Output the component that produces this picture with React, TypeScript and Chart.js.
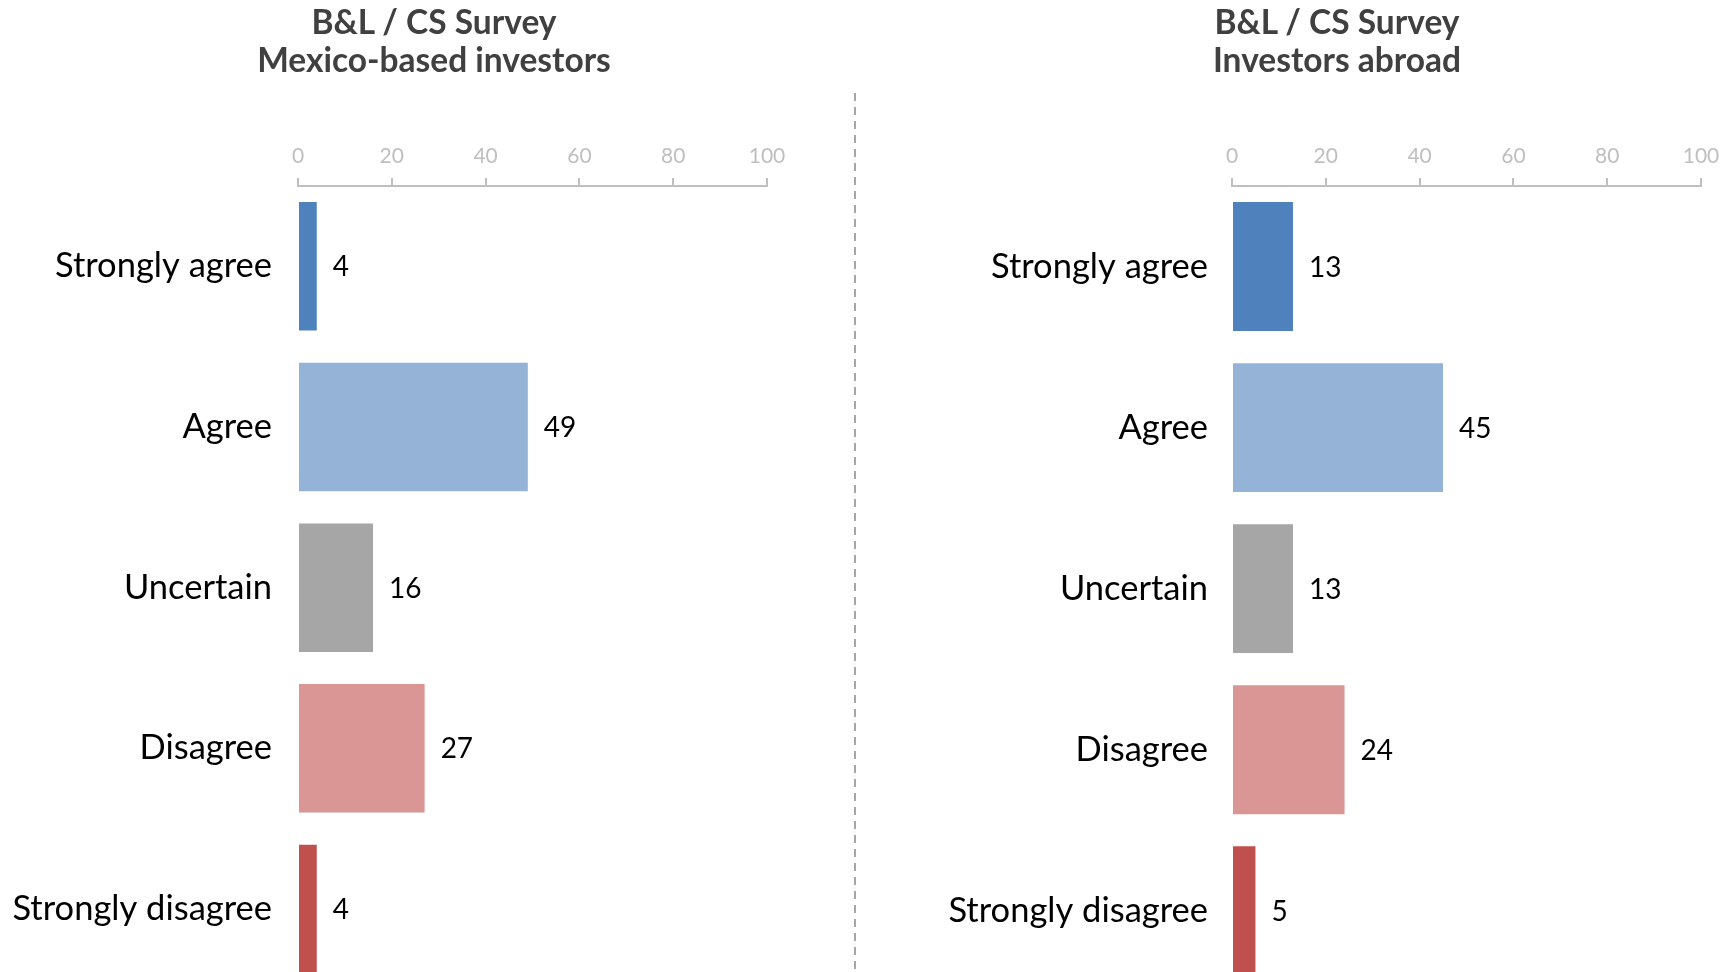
import React, { useEffect, useRef } from "react";
import { Chart, registerables } from "chart.js";

Chart.register(...registerables);

const categories = ["Strongly agree", "Agree", "Uncertain", "Disagree", "Strongly disagree"];
const mexicoValues = [4, 49, 16, 27, 4];
const abroadValues = [13, 45, 13, 24, 5];
const barColors = ["#4f81bd", "#95b3d7", "#a6a6a6", "#da9694", "#c0504d"];
const xTicks = [0, 20, 40, 60, 80, 100];
const titleMexico = ["B&L / CS Survey", "Mexico-based investors"];
const titleAbroad = ["B&L / CS Survey", "Investors abroad"];

const FONT = "Lato, 'Open Sans', sans-serif";

const dataLabelPlugin = {
  id: "barValueLabels",
  afterDatasetsDraw(chart: any) {
    const ctx = chart.ctx;
    const meta = chart.getDatasetMeta(0);
    const ds = chart.data.datasets[0];
    ctx.save();
    ctx.fillStyle = "#000000";
    ctx.font = `28px ${FONT}`;
    ctx.textAlign = "left";
    ctx.textBaseline = "middle";
    meta.data.forEach((bar: any, i: number) => {
      ctx.fillText(String(ds.data[i]), bar.x + 16, bar.y + 1);
    });
    ctx.restore();
  },
};

const dividerPlugin = {
  id: "divider",
  afterDraw(chart: any) {
    const ctx = chart.ctx;
    ctx.save();
    ctx.strokeStyle = "#a6a6a6";
    ctx.lineWidth = 2;
    ctx.setLineDash([8, 6]);
    ctx.beginPath();
    ctx.moveTo(855, 93);
    ctx.lineTo(855, chart.height);
    ctx.stroke();
    ctx.restore();
  },
};

function SurveyChart({ values, withDivider, labelPad }: { values: number[]; withDivider: boolean; labelPad: number }) {
  const ref = useRef<HTMLCanvasElement | null>(null);
  useEffect(() => {
    if (!ref.current) return;
    const chart = new Chart(ref.current, {
      type: "bar",
      data: {
        labels: categories,
        datasets: [
          {
            data: values,
            backgroundColor: barColors,
            borderWidth: 0,
            barPercentage: 0.8,
            categoryPercentage: 1,
          },
        ],
      },
      options: {
        indexAxis: "y",
        responsive: false,
        animation: false,
        devicePixelRatio: 1,
        layout: { padding: { top: 0, left: 0, right: 101, bottom: 9 } },
        plugins: {
          legend: { display: false },
          tooltip: { enabled: false },
          title: { display: false },
        },
        scales: {
          x: {
            position: "top",
            min: 0,
            max: 100,
            afterBuildTicks: (scale: any) => {
              scale.ticks = xTicks.map((v) => ({ value: v }));
            },
            afterFit: (scale: any) => {
              scale.height = 186;
            },
            ticks: {
              color: "#bfbfbf",
              font: { family: FONT, size: 21 },
              padding: 9,
              maxRotation: 0,
            },
            grid: {
              drawOnChartArea: false,
              drawTicks: true,
              tickLength: 8,
              color: "#bfbfbf",
              lineWidth: 2,
            },
            border: { display: true, color: "#bfbfbf", width: 2 },
          },
          y: {
            afterFit: (scale: any) => {
              scale.width = 298;
            },
            ticks: {
              color: "#000000",
              font: { family: FONT, size: 34.5 },
              padding: labelPad,
            },
            grid: { display: false, drawTicks: false },
            border: { display: false },
          },
        },
      },
      plugins: withDivider ? [dataLabelPlugin, dividerPlugin] : [dataLabelPlugin],
    } as any);
    return () => chart.destroy();
  }, [values, withDivider, labelPad]);
  return <canvas ref={ref} width={868} height={1036} style={{ width: 868, height: 1036, display: "block" }} />;
}

function Title({ lines, center }: { lines: string[]; center: number }) {
  return (
    <div
      style={{
        position: "absolute",
        left: center - 300,
        width: 600,
        top: 2,
        textAlign: "center",
        fontFamily: FONT,
        fontWeight: 700,
        fontSize: 33.5,
        lineHeight: "38px",
        color: "#404040",
      }}
    >
      {lines.map((l, i) => (
        <div key={i}>{l}</div>
      ))}
    </div>
  );
}

export default function App() {
  return (
    <div
      style={{
        position: "fixed",
        left: 0,
        top: 0,
        width: 1736,
        height: 972,
        overflow: "hidden",
        background: "#ffffff",
      }}
    >
      <div style={{ position: "absolute", left: 0, top: 0 }}>
        <SurveyChart values={mexicoValues} withDivider={true} labelPad={26} />
      </div>
      <div style={{ position: "absolute", left: 934, top: 0 }}>
        <SurveyChart values={abroadValues} withDivider={false} labelPad={24} />
      </div>
      <Title lines={titleMexico} center={434} />
      <Title lines={titleAbroad} center={1337} />
    </div>
  );
}
